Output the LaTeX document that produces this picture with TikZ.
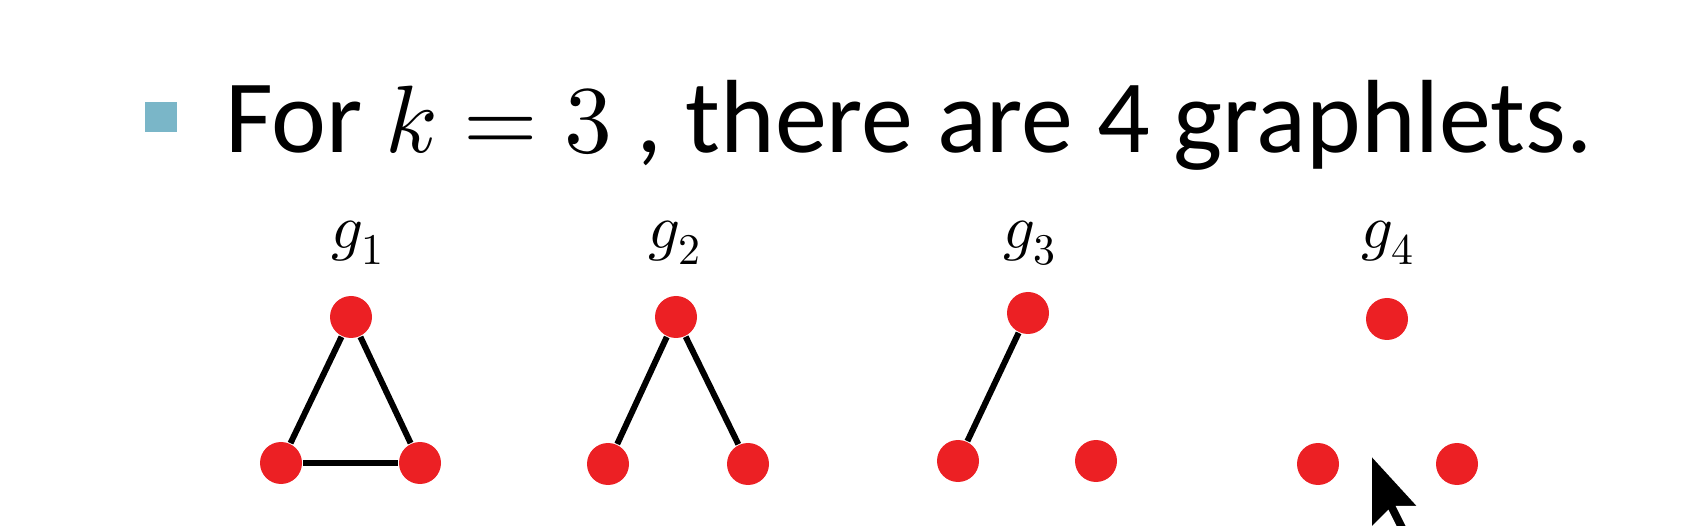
\documentclass[tikz,border=0pt]{standalone}
\usepackage{fontspec}
\usepackage{unicode-math}
\setmainfont{Carlito}
\setmathfont{Latin Modern Math}[Scale=0.92]
\usetikzlibrary{positioning}
\definecolor{dotred}{RGB}{236,32,36}
\definecolor{bulletblue}{RGB}{122,182,200}

\begin{document}
\begin{tikzpicture}[x=1pt, y=-1pt, line width=6pt, on grid,
    vert/.style={circle, fill=dotred, minimum size=42pt, inner sep=0pt},
    edge/.style={shorten <=-2pt, shorten >=-2pt},
    glabel/.style={font=\fontsize{68}{74}\selectfont, anchor=base, inner sep=0pt}]
    \useasboundingbox (0,0) rectangle (1682,526);

    \node[fill=bulletblue, minimum width=32pt, minimum height=30pt, inner sep=0pt] (bullet) at (161,117) {};
    \node[anchor=base west, font=\fontsize{104}{120}\selectfont, inner sep=0pt] (title) at (222,153) {For $k = 3$ , there are 4 graphlets.};

    % triangle
    \node[vert] (g1t) at (351,317) {};
    \node[vert, below left=146pt and 70pt of g1t] (g1l) {};
    \node[vert, below right=146pt and 69pt of g1t] (g1r) {};
    \node[glabel] (g1) at (358,249) {$g_1$};
    \draw[edge] (g1l) -- (g1t);
    \draw[edge] (g1t) -- (g1r);
    \draw[edge] (g1r) -- (g1l);

    % path
    \node[vert] (g2t) at (676,317) {};
    \node[vert, below left=147pt and 68pt of g2t] (g2l) {};
    \node[vert, below right=147pt and 72pt of g2t] (g2r) {};
    \node[glabel] (g2) at (675,249) {$g_2$};
    \draw[edge] (g2l) -- (g2t);
    \draw[edge] (g2t) -- (g2r);

    % one edge
    \node[vert] (g3t) at (1028,313) {};
    \node[vert, below left=148pt and 70pt of g3t] (g3l) {};
    \node[vert, below right=148pt and 68pt of g3t] (g3r) {};
    \node[glabel] (g3) at (1030,249) {$g_3$};
    \draw[edge] (g3l) -- (g3t);

    % empty
    \node[vert] (g4t) at (1387,319) {};
    \node[vert, below left=145pt and 69pt of g4t] (g4l) {};
    \node[vert, below right=145pt and 70pt of g4t] (g4r) {};
    \node[glabel] (g4) at (1388,249) {$g_4$};

    % mouse pointer
    \coordinate (tip) at (1371,455);
    \draw[line width=1.5pt, draw=white, fill=black, shift={(tip)}, x=4.3pt, y=-4.3pt]
        (0,0) -- (0,17) -- (4,13) -- (7,19) -- (9,18) -- (6,12) -- (11,12) -- cycle;
\end{tikzpicture}
\end{document}
